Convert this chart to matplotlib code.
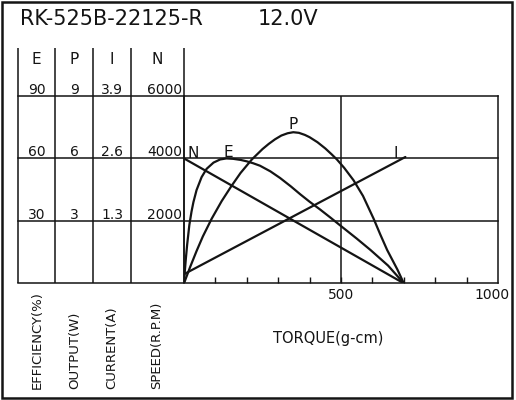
import matplotlib
matplotlib.use("Agg")
import matplotlib.pyplot as plt
from matplotlib.patches import Rectangle

# ---------------- data ----------------
title_model = "RK-525B-22125-R"
title_volt = "12.0V"

headers = ["E", "P", "I", "N"]
speed_ticks = [2000, 4000, 6000]          # N (R.P.M)
eff_ticks = ["30", "60", "90"]            # E (%)
out_ticks = ["3", "6", "9"]               # P (W)
cur_ticks = ["1.3", "2.6", "3.9"]         # I (A)
spd_tick_labels = ["2000", "4000", "6000"]
axis_titles = ["EFFICIENCY(%)", "OUTPUT(W)", "CURRENT(A)", "SPEED(R.P.M)"]
x_title = "TORQUE(g-cm)"
x_ticks_minor = [100, 200, 300, 400, 500, 600, 700, 800, 900]
x_tick_labels = ["", "", "", "", "500", "", "", "", ""]

# speed N (rpm) vs torque
n_torque = [0, 700]
n_speed = [4000, 0]
# current I (A) vs torque
i_torque = [0, 705]
i_current = [0.19, 2.63]
# efficiency E (%) vs torque
e_torque = [0, 3, 6, 10, 17, 24, 30, 40, 56, 72, 94, 115, 135, 157, 180, 200,
            220, 242, 275, 306, 340, 370, 400, 434, 467, 500, 550, 594, 650, 700]
e_eff = [0, 6.5, 12, 18.5, 28, 34.5, 39, 44.8, 51, 55, 58, 59.5, 60, 59.8, 59.3,
         58.6, 57.7, 56.5, 53.8, 50.6, 46.6, 42.8, 39.2, 35.4, 31.5, 27.5, 21.5,
         16, 8.5, 0]
# output P (W) vs torque
p_torque = [0, 20, 40, 60, 88, 120, 150, 180, 216, 250, 270, 290, 310, 330, 348,
            366, 385, 400, 425, 450, 470, 487, 510, 540, 570, 604, 625, 647, 680, 700]
p_out = [0, 0.8, 1.55, 2.25, 3.1, 3.95, 4.65, 5.3, 5.95, 6.45, 6.7, 6.92, 7.1,
         7.21, 7.26, 7.23, 7.13, 7.02, 6.78, 6.48, 6.2, 5.95, 5.55, 4.95, 4.2,
         3.1, 2.35, 1.6, 0.65, 0]

# ---------------- layout ----------------
W, H = 516, 400
INK = "#141414"
plt.rcParams["font.family"] = ["DejaVu Sans"]

fig = plt.figure(figsize=(W / 100, H / 100), dpi=100)
fig.patch.set_facecolor("white")


def fx(px):
    return px / W


def fy(py):
    return 1 - py / H


ov = fig.add_axes([0, 0, 1, 1])
ov.set_xlim(0, W)
ov.set_ylim(H, 0)
ov.axis("off")

X0, X1, Y0, Y1 = 184, 498, 283.3, 96
ax = fig.add_axes([fx(X0), fy(Y0), fx(X1) - fx(X0), fy(Y1) - fy(Y0)])
ax.set_xlim(0, 1000)
ax.set_ylim(0, 6000)
ax.patch.set_alpha(0)
for s in ["top", "bottom"]:
    ax.spines[s].set_visible(False)
for s in ["left", "right"]:
    ax.spines[s].set_linewidth(1.1)
    ax.spines[s].set_color(INK)
ax.set_yticks([])
ax.set_xticks(x_ticks_minor)
ax.set_xticklabels(x_tick_labels)
ax.tick_params(axis="x", direction="in", length=4.5, width=1.0, pad=3.2,
               labelsize=10, colors=INK)

# outer frame
ov.add_patch(Rectangle((2, 2), 509.5, 395.5, fill=False, lw=1.8, ec=INK))

# horizontal grid lines, extending left through the scale columns
ext = -(X0 - 18) / (X1 - X0)
for v in [0] + speed_ticks:
    ax.axhline(v, xmin=ext, xmax=1, color=INK, lw=1.1, clip_on=False)
ax.axvline(500, color=INK, lw=1.1)

# column separators
col_x = [18, 55, 93, 131, 184]
for x in col_x:
    ov.plot([x, x], [48, Y0], color=INK, lw=1.1, solid_capstyle="butt")

# title
ov.text(20, 25, title_model, fontsize=15, color=INK, va="baseline", ha="left")
ov.text(258, 25, title_volt, fontsize=15, color=INK, va="baseline", ha="left")

# column headers
head_x = [36.5, 74.5, 112, 157]
for h, x in zip(headers, head_x):
    ov.text(x, 59, h, fontsize=11, color=INK, ha="center", va="center")

# scale numbers
col_centers = [36.5, 74.5, 112]
for labels, cx in zip([eff_ticks, out_ticks, cur_ticks], col_centers):
    for lab, v in zip(labels, speed_ticks):
        ax.annotate(lab, xy=(fx(cx), v), xycoords=("figure fraction", "data"),
                    xytext=(0, 1.6), textcoords="offset points",
                    ha="center", va="baseline", fontsize=10, color=INK)
for lab, v in zip(spd_tick_labels, speed_ticks):
    ax.annotate(lab, xy=(fx(182.5), v), xycoords=("figure fraction", "data"),
                xytext=(0, 1.6), textcoords="offset points",
                ha="right", va="baseline", fontsize=10, color=INK)

# 1000 label
ax.annotate("1000", xy=(1000, 0), xytext=(-4.3, -3.2), textcoords="offset points",
            ha="center", va="top", fontsize=10, color=INK)

# axis titles
for t, x in zip(axis_titles, [37.5, 74.7, 112, 156.7]):
    ov.text(x, 389, t, rotation=90, fontsize=9.5, color=INK, ha="center", va="bottom")
ov.text(328, 338, x_title, fontsize=10.5, color=INK, ha="center", va="center")

# ---------------- curves ----------------
axE = ax.twinx(); axE.set_ylim(0, 90); axE.axis("off")
axP = ax.twinx(); axP.set_ylim(0, 9); axP.axis("off")
axI = ax.twinx(); axI.set_ylim(0, 3.9); axI.axis("off")

lw = 1.6
ax.plot(n_torque, n_speed, color=INK, lw=lw, solid_capstyle="round")
axI.plot(i_torque, i_current, color=INK, lw=lw, solid_capstyle="round")
axE.plot(e_torque, e_eff, color=INK, lw=lw, solid_joinstyle="round")
axP.plot(p_torque, p_out, color=INK, lw=lw, solid_joinstyle="round")

# curve labels
ax.text(29, 4150, "N", fontsize=11, color=INK, ha="center", va="center")
ax.text(140, 4200, "E", fontsize=11, color=INK, ha="center", va="center")
ax.text(348, 5100, "P", fontsize=11, color=INK, ha="center", va="center")
ax.text(673, 4170, "I", fontsize=11, color=INK, ha="center", va="center")

fig.savefig("out.png", dpi=100, facecolor="white")
